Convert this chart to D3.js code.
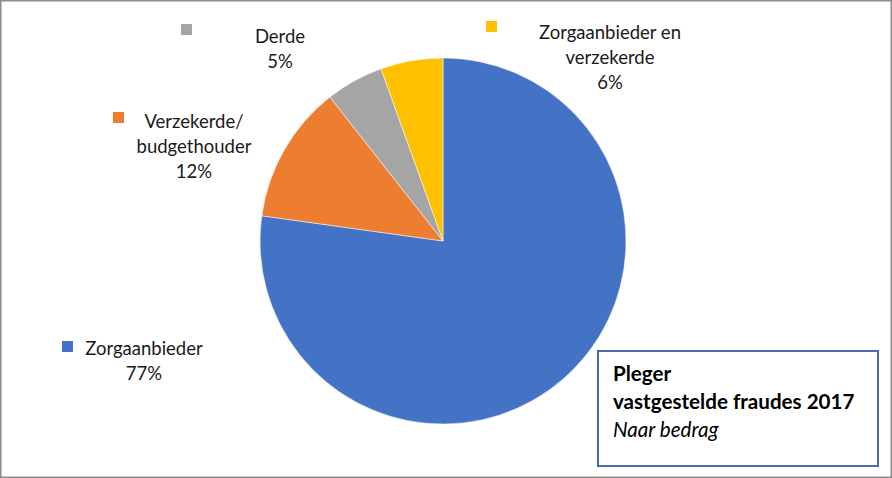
<!DOCTYPE html>
<html lang="nl">
<head>
<meta charset="UTF-8">
<title>Pleger vastgestelde fraudes 2017</title>
<style>
    body { margin: 0; background: #fff; }
    svg { display: block; font-family: Lato, "Open Sans", sans-serif; }
    .lbl { font-size: 18.5px; fill: #1a1a1a; text-anchor: middle; }
    .ttl { font-size: 20.6px; fill: #000; }
</style>
</head>
<body>
<svg width="892" height="478"></svg>
<script src="https://d3js.org/d3.v7.min.js"></script>
<script>
    // data (shares of total, clockwise from 12 o'clock)
    const categories = ["Zorgaanbieder", "Verzekerde/ budgethouder", "Derde", "Zorgaanbieder en verzekerde"];
    const shares = [77.2, 12.2, 5.1, 5.5];
    const colors = ["#4472C4", "#ED7D31", "#A5A5A5", "#FFC000"];
    // label lines (text wraps as in the original)
    const labelLines = [["Zorgaanbieder"], ["Verzekerde/", "budgethouder"], ["Derde"], ["Zorgaanbieder en", "verzekerde"]];
    const titleLines = ["Pleger", "vastgestelde fraudes 2017", "Naar bedrag"];

    const svg = d3.select("svg");
    const W = 892, H = 478;

    // outer frame
    svg.append("rect")
        .attr("x", 0.75).attr("y", 0.75)
        .attr("width", W - 1.5).attr("height", H - 1.5)
        .attr("fill", "none").attr("stroke", "#8c8c8c").attr("stroke-width", 1.5);

    const cx = 443, cy = 241, r = 183;

    const pie = d3.pie().sort(null).value(d => d);
    const arc = d3.arc().innerRadius(0).outerRadius(r);
    const arcs = pie(shares);

    svg.append("g")
        .attr("transform", `translate(${cx},${cy})`)
        .selectAll("path")
        .data(arcs)
        .enter().append("path")
        .attr("d", arc)
        .attr("fill", (d, i) => colors[i])
        .attr("stroke", "#fff")
        .attr("stroke-width", 0.5);

    // label positions (center of text block, first baseline) and marker
    const labelPos = [
        { x: 144, y: 355, mx: 62, my: 341 },
        { x: 194, y: 128, mx: 113, my: 112 },
        { x: 280, y: 43,  mx: 181, my: 24 },
        { x: 610, y: 39,  mx: 486, my: 21 }
    ];

    const lh = 25;
    const lab = svg.append("g");
    arcs.forEach((a, i) => {
        const p = labelPos[i];
        lab.append("rect")
            .attr("x", p.mx).attr("y", p.my)
            .attr("width", 11).attr("height", 11)
            .attr("fill", colors[i]);
        const t = lab.append("text").attr("class", "lbl");
        const lines = labelLines[i].concat([Math.round(shares[i]) + "%"]);
        lines.forEach((s, j) => {
            t.append("tspan").attr("x", p.x).attr("y", p.y + j * lh).text(s);
        });
    });

    // title box
    svg.append("rect")
        .attr("x", 598).attr("y", 351)
        .attr("width", 280).attr("height", 115)
        .attr("fill", "#fff").attr("stroke", "#4A6AA8").attr("stroke-width", 2);

    const tt = svg.append("text").attr("class", "ttl");
    tt.append("tspan").attr("x", 613).attr("y", 381).attr("font-weight", "bold").text(titleLines[0]);
    tt.append("tspan").attr("x", 613).attr("y", 409).attr("font-weight", "bold").text(titleLines[1]);
    tt.append("tspan").attr("x", 613).attr("y", 437).attr("font-style", "italic").text(titleLines[2]);
</script>
</body>
</html>
